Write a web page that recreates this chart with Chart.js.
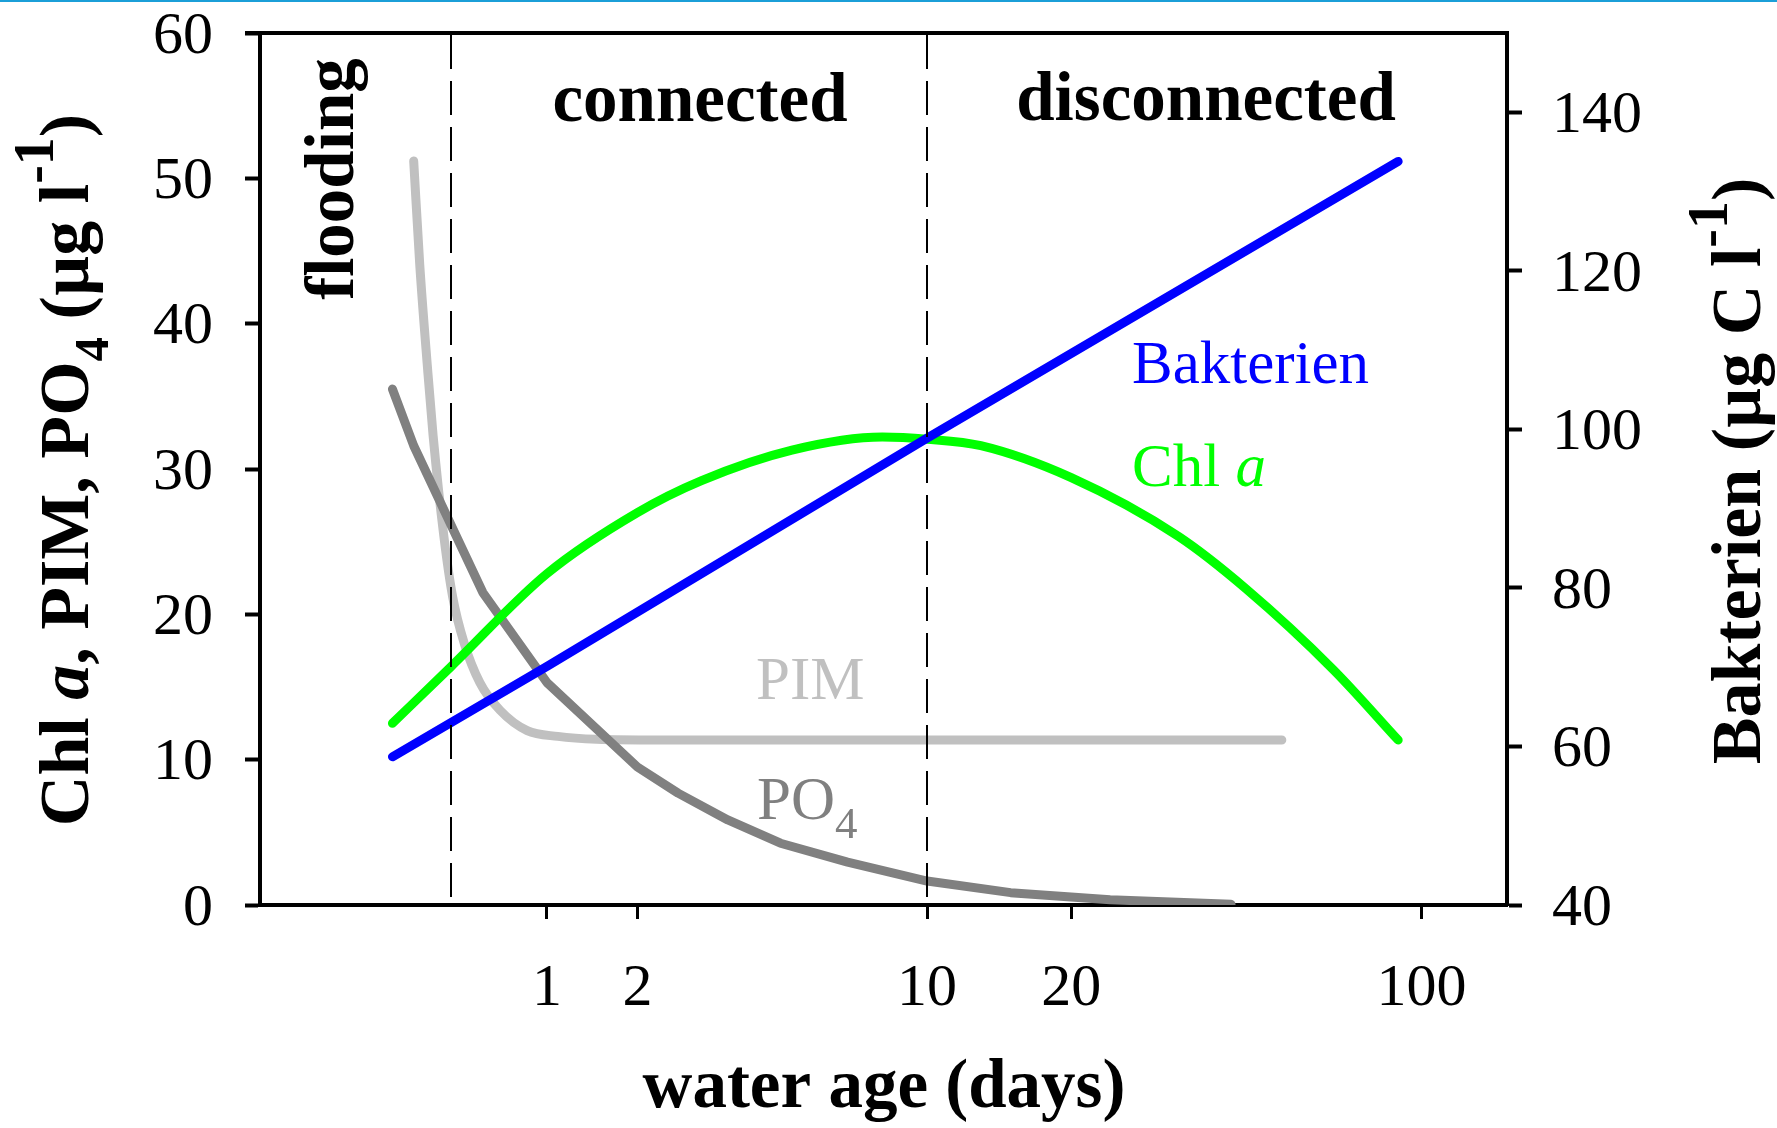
<!DOCTYPE html>
<html><head><meta charset="utf-8">
<script src="https://cdn.jsdelivr.net/npm/chart.js@4.4.1/dist/chart.umd.min.js"></script>
<style>
html,body{margin:0;padding:0;background:#fff;}
#wrap{position:relative;width:1777px;height:1128px;overflow:hidden;}
#topline{position:absolute;left:0;top:0;width:1777px;height:2px;background:#1b9fd8;}
canvas{position:absolute;left:0;top:0;}
</style></head><body>
<div id="wrap"><canvas id="c" width="1777" height="1128"></canvas><div id="topline"></div></div>
<script>
// ---- data (water age in days, values) ----
const xTickDays = [1, 2, 10, 20, 100];
const leftTicks = [0, 10, 20, 30, 40, 50, 60];
const rightTicks = [40, 60, 80, 100, 120, 140];
const phaseBounds = [0.3, 10];

const bakDays = [0, 1, 10, 90];
const bakVals = [58.7, 70.1, 98.9, 133.8];

const chlDays = [0, 0.3, 1, 2, 3, 5, 8, 10, 13, 20, 33, 45, 67, 90];
const chlVals = [12.5, 16.4, 22.8, 27.0, 29.2, 31.3, 32.2, 32.05, 31.6, 29.4, 25.35, 21.75, 16.2, 11.35];

const pimDays = [0.1, 0.13, 0.17, 0.2, 0.26, 0.31, 0.38, 0.48, 0.62, 0.83, 1.1, 1.5, 2.3, 53];
const pimVals = [51.2, 44.1, 37.0, 32.3, 25.3, 21.2, 18.0, 15.3, 13.4, 12.0, 11.6, 11.4, 11.35, 11.35];

const po4Days = [0, 0.1, 0.5, 1, 2, 2.6, 3.5, 4.7, 6.7, 10, 15, 24, 42];
const po4Vals = [35.5, 31.6, 21.5, 15.3, 9.5, 7.7, 5.85, 4.25, 2.95, 1.65, 0.85, 0.36, 0.05];

// ---- helpers ----
const toU = d => Math.log10(1 + d);
const pts = (days, vals) => days.map((d, i) => ({x: toU(d), y: vals[i]}));
const FAM = '"Liberation Serif", "Times New Roman", serif';
const F = (size, bold, italic) => (italic ? 'italic ' : '') + (bold ? 'bold ' : '') + size + 'px ' + FAM;

function drawRich(ctx, runs, x, y, align, rot) {
  ctx.save();
  ctx.translate(x, y);
  if (rot) ctx.rotate(rot);
  ctx.textBaseline = 'alphabetic';
  ctx.textAlign = 'left';
  let total = 0;
  runs.forEach(r => { ctx.font = r.f; r.w = ctx.measureText(r.t).width; total += r.w; });
  let cx = align === 'center' ? -total / 2 : (align === 'right' ? -total : 0);
  runs.forEach(r => { ctx.font = r.f; ctx.fillStyle = r.c || '#000'; ctx.fillText(r.t, cx, r.dy || 0); cx += r.w; });
  ctx.restore();
}

const decor = {
  id: 'decor',
  afterDatasetsDraw(chart) {
    const {ctx, chartArea: a, scales: {x}} = chart;
    ctx.save();
    ctx.strokeStyle = '#000';
    ctx.lineWidth = 2;
    ctx.setLineDash([34, 12]);
    phaseBounds.forEach(d => {
      const px = Math.round(x.getPixelForValue(toU(d)));
      ctx.beginPath(); ctx.moveTo(px, a.top + 2); ctx.lineTo(px, a.bottom); ctx.stroke();
    });
    ctx.setLineDash([]);
    ctx.lineWidth = 4;
    ctx.beginPath(); ctx.moveTo(a.left - 15, a.top); ctx.lineTo(a.right + 2, a.top); ctx.stroke();
    ctx.restore();
  },
  afterDraw(chart) {
    const ctx = chart.ctx;
    const up = -Math.PI / 2;
    drawRich(ctx, [{t: 'connected', f: F(69, true)}], 700, 121, 'center');
    drawRich(ctx, [{t: 'disconnected', f: F(69, true)}], 1206, 120, 'center');
    drawRich(ctx, [{t: 'flooding', f: F(69, true)}], 353, 179, 'center', up);
    drawRich(ctx, [{t: 'Bakterien', f: F(61), c: '#0000ff'}], 1132, 383, 'left');
    drawRich(ctx, [{t: 'Chl ', f: F(61), c: '#00ff00'}, {t: 'a', f: F(61, false, true), c: '#00ff00'}], 1132, 486, 'left');
    drawRich(ctx, [{t: 'PIM', f: F(61), c: '#c0c0c0'}], 756, 699, 'left');
    drawRich(ctx, [{t: 'PO', f: F(61), c: '#808080'}, {t: '4', f: F(45), c: '#808080', dy: 19}], 757, 819, 'left');
    drawRich(ctx, [
      {t: 'Chl ', f: F(70, true)}, {t: 'a', f: F(70, true, true)}, {t: ', PIM, PO', f: F(70, true)},
      {t: '4', f: F(49, true), dy: 20}, {t: ' (µg l', f: F(70, true)}, {t: '-1', f: F(56, true), dy: -35},
      {t: ')', f: F(70, true)}
    ], 88, 470, 'center', up);
    drawRich(ctx, [
      {t: 'Bakterien (µg C l', f: F(70, true)}, {t: '-1', f: F(56, true), dy: -33}, {t: ')', f: F(70, true)}
    ], 1760, 471, 'center', up);
    drawRich(ctx, [{t: 'water age (days)', f: F(69, true)}], 884, 1107, 'center');
  }
};

const tickFont = {family: 'Liberation Serif', size: 60};
const noPad = s => { s.paddingTop = 0; s.paddingBottom = 0; s.paddingLeft = 0; s.paddingRight = 0; };

new Chart(document.getElementById('c'), {
  type: 'line',
  data: {
    datasets: [
      {label: 'Bakterien', data: pts(bakDays, bakVals), borderColor: '#0000ff', yAxisID: 'y2', tension: 0, order: 1},
      {label: 'Chl a', data: pts(chlDays, chlVals), borderColor: '#00ff00', yAxisID: 'y', cubicInterpolationMode: 'monotone', order: 2},
      {label: 'PO4', data: pts(po4Days, po4Vals), borderColor: '#808080', yAxisID: 'y', tension: 0, order: 3},
      {label: 'PIM', data: pts(pimDays, pimVals), borderColor: '#c0c0c0', yAxisID: 'y', cubicInterpolationMode: 'monotone', order: 4}
    ]
  },
  options: {
    responsive: false,
    animation: false,
    devicePixelRatio: 1,
    layout: {padding: {top: 33, left: 0, right: 0, bottom: 0}},
    elements: {
      line: {borderWidth: 9, borderCapStyle: 'round', borderJoinStyle: 'round', fill: false},
      point: {radius: 0, hoverRadius: 0}
    },
    plugins: {legend: {display: false}, tooltip: {enabled: false}},
    scales: {
      x: {
        type: 'linear', position: 'bottom', min: -0.258, max: 2.171,
        afterBuildTicks: s => { s.ticks = xTickDays.map(d => ({value: toU(d)})); },
        ticks: {callback: (v, i) => String(xTickDays[i]), font: tickFont, color: '#000', padding: 34, maxRotation: 0, autoSkip: false},
        grid: {drawOnChartArea: false, drawTicks: true, tickLength: 14, tickWidth: 3, tickColor: '#000'},
        border: {display: true, width: 4, color: '#000'},
        afterFit: s => { s.height = 223; noPad(s); }
      },
      y: {
        type: 'linear', position: 'left', min: 0, max: 60,
        afterBuildTicks: s => { s.ticks = leftTicks.map(v => ({value: v})); },
        ticks: {font: tickFont, color: '#000', padding: 32, autoSkip: false, labelOffset: 4},
        grid: {drawOnChartArea: false, drawTicks: true, tickLength: 15, tickWidth: 4, tickColor: '#000'},
        border: {display: true, width: 4, color: '#000'},
        afterFit: s => { s.width = 260; noPad(s); }
      },
      y2: {
        type: 'linear', position: 'right', min: 40, max: 150,
        afterBuildTicks: s => { s.ticks = rightTicks.map(v => ({value: v})); },
        ticks: {font: tickFont, color: '#000', padding: 30, autoSkip: false, labelOffset: 4},
        grid: {drawOnChartArea: false, drawTicks: true, tickLength: 15, tickWidth: 4, tickColor: '#000'},
        border: {display: true, width: 4, color: '#000'},
        afterFit: s => { s.width = 270; noPad(s); }
      }
    }
  },
  plugins: [decor]
});
</script>
</body></html>
